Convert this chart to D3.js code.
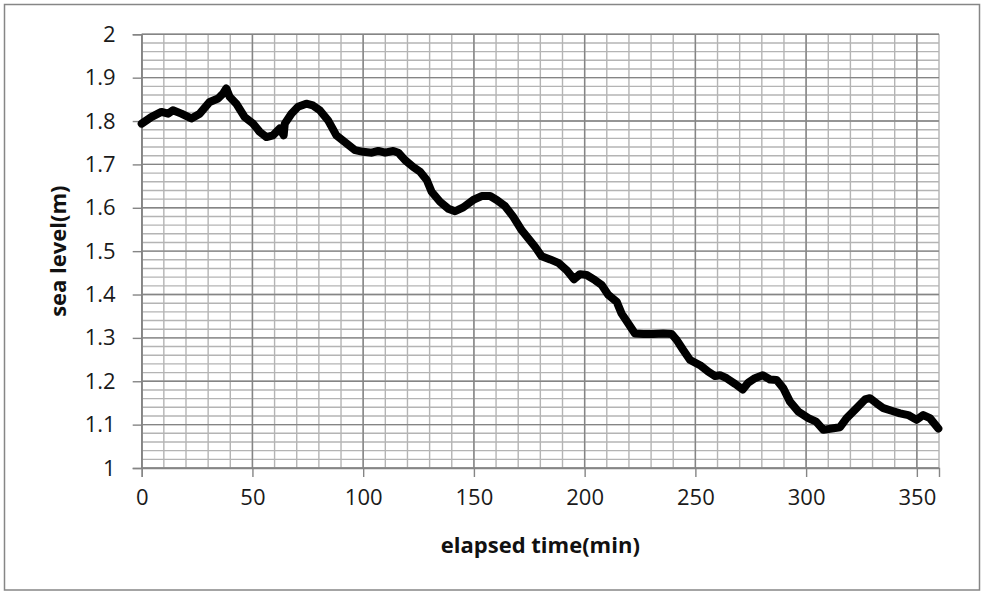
<!DOCTYPE html>
<html>
<head>
<meta charset="utf-8">
<script src="https://cdn.jsdelivr.net/npm/d3@7"></script>
<style>
  html, body { margin: 0; padding: 0; background: #fff; }
  svg { display: block; }
</style>
</head>
<body>
<svg id="chart" width="984" height="595"></svg>
<script>
// ---- data ----
const elapsedMin = [0, 4.3, 8.9, 11.9, 14.1, 17.9, 22.4, 26.2, 30.7, 34.5, 36.7, 38.2, 39.7, 42.7, 46.5, 50.3, 53.3, 56.3, 59.3, 62.3, 64.1, 64.6, 67.6, 70.6, 74.3, 77.3, 80.4, 84.1, 87.9, 92.6, 96.3, 100, 103.9, 106.8, 109.9, 113.6, 115.9, 118.9, 122.6, 125.7, 128.7, 130.9, 134.7, 138.4, 141.5, 145.2, 149.7, 153.5, 157.3, 160.3, 164, 167.8, 171.6, 174.6, 177.6, 180.6, 184.4, 188.1, 191.9, 195.2, 197.9, 200.9, 204.7, 207.7, 210.7, 214.5, 216.7, 219.7, 222.7, 226.5, 231, 235.5, 239.3, 241.6, 244.5, 247.6, 252.1, 255.8, 258.9, 261.1, 264.1, 267.9, 271.4, 273.9, 276.9, 280.4, 283.7, 286.7, 289.7, 292.7, 296.5, 301, 304.5, 307.8, 311.6, 315.3, 318.3, 322.8, 326.6, 328.8, 331.9, 334.9, 338.6, 342.4, 346.1, 349.9, 352.9, 355.9, 359.7];
const seaLevel = [1.794, 1.809, 1.821, 1.817, 1.825, 1.817, 1.806, 1.817, 1.844, 1.852, 1.863, 1.875, 1.856, 1.840, 1.809, 1.794, 1.775, 1.763, 1.767, 1.783, 1.767, 1.794, 1.817, 1.833, 1.840, 1.836, 1.825, 1.802, 1.767, 1.748, 1.733, 1.729, 1.727, 1.731, 1.727, 1.731, 1.727, 1.710, 1.694, 1.683, 1.664, 1.637, 1.614, 1.598, 1.592, 1.601, 1.618, 1.627, 1.627, 1.618, 1.604, 1.579, 1.548, 1.529, 1.510, 1.488, 1.481, 1.473, 1.456, 1.435, 1.447, 1.445, 1.433, 1.422, 1.399, 1.383, 1.356, 1.333, 1.310, 1.309, 1.309, 1.310, 1.309, 1.295, 1.272, 1.249, 1.237, 1.222, 1.212, 1.214, 1.207, 1.194, 1.181, 1.197, 1.207, 1.214, 1.204, 1.203, 1.184, 1.153, 1.130, 1.115, 1.107, 1.088, 1.091, 1.094, 1.115, 1.138, 1.158, 1.161, 1.149, 1.138, 1.132, 1.126, 1.122, 1.111, 1.122, 1.115, 1.091];
const xTicks = [0, 50, 100, 150, 200, 250, 300, 350];
const yTicks = [1, 1.1, 1.2, 1.3, 1.4, 1.5, 1.6, 1.7, 1.8, 1.9, 2];
const xTitle = "elapsed time(min)";
const yTitle = "sea level(m)";

// ---- layout ----
const svg = d3.select("#chart");
const W = 984, H = 595;
const plot = { left: 141.7, right: 939, top: 34.3, bottom: 468 };

const x = d3.scaleLinear().domain([0, 360]).range([plot.left, plot.right]);
const y = d3.scaleLinear().domain([1, 2]).range([plot.bottom, plot.top]);

// outer border
svg.append("rect")
  .attr("x", 4.5).attr("y", 4.5).attr("width", W - 9).attr("height", H - 9.5)
  .attr("fill", "#fff").attr("stroke", "#868686").attr("stroke-width", 1.5);

const font = "'Open Sans', 'Noto Sans', sans-serif";

// minor grid
const minorX = d3.range(0, 361, 10);
const minorY = d3.range(0, 51).map(i => 1 + i * 0.02);
const grid = svg.append("g");
grid.selectAll("line.mx").data(minorX).join("line")
  .attr("x1", d => x(d)).attr("x2", d => x(d))
  .attr("y1", plot.top).attr("y2", plot.bottom)
  .attr("stroke", "#b4b4b4").attr("stroke-width", 1.4);
grid.selectAll("line.my").data(minorY).join("line")
  .attr("y1", d => y(d)).attr("y2", d => y(d))
  .attr("x1", plot.left).attr("x2", plot.right)
  .attr("stroke", "#b4b4b4").attr("stroke-width", 1.4);
// major grid
grid.selectAll("line.Mx").data(xTicks).join("line")
  .attr("x1", d => x(d)).attr("x2", d => x(d))
  .attr("y1", plot.top).attr("y2", plot.bottom)
  .attr("stroke", "#858585").attr("stroke-width", 1.4);
grid.selectAll("line.My").data(yTicks).join("line")
  .attr("y1", d => y(d)).attr("y2", d => y(d))
  .attr("x1", plot.left).attr("x2", plot.right)
  .attr("stroke", "#858585").attr("stroke-width", 1.4);

// axes
const xAxis = svg.append("g")
  .attr("transform", `translate(0,${plot.bottom})`)
  .call(d3.axisBottom(x).tickValues(xTicks).tickSize(9).tickPadding(12).tickFormat(d3.format("d")));
const yAxis = svg.append("g")
  .attr("transform", `translate(${plot.left},0)`)
  .call(d3.axisLeft(y).tickValues(yTicks).tickSize(9).tickPadding(17).tickFormat(d => d === 1 || d === 2 ? String(d) : d3.format(".1f")(d)));
[xAxis, yAxis].forEach(g => {
  g.select(".domain").attr("stroke", "#858585").attr("stroke-width", 1.4);
  g.selectAll(".tick line").attr("stroke", "#858585").attr("stroke-width", 1.4);
  g.selectAll(".tick text").attr("fill", "#1a1a1a").style("font-family", font).style("font-size", "22px");
});

// data line
const pts = elapsedMin.map((t, i) => [t, seaLevel[i]]);
svg.append("path")
  .datum(pts)
  .attr("fill", "none")
  .attr("stroke", "#000")
  .attr("stroke-width", 8)
  .attr("stroke-linejoin", "round")
  .attr("stroke-linecap", "round")
  .attr("d", d3.line().x(d => x(d[0])).y(d => y(d[1])));

// titles
svg.append("text")
  .attr("x", (plot.left + plot.right) / 2).attr("y", 553)
  .attr("text-anchor", "middle")
  .style("font-family", font).style("font-size", "22px").style("font-weight", "bold")
  .attr("fill", "#111")
  .text(xTitle);
svg.append("text")
  .attr("transform", `translate(57,${(plot.top + plot.bottom) / 2}) rotate(-90)`)
  .attr("text-anchor", "middle").attr("dominant-baseline", "central")
  .style("font-family", font).style("font-size", "22px").style("font-weight", "bold")
  .attr("fill", "#111")
  .text(yTitle);
</script>
</body>
</html>
